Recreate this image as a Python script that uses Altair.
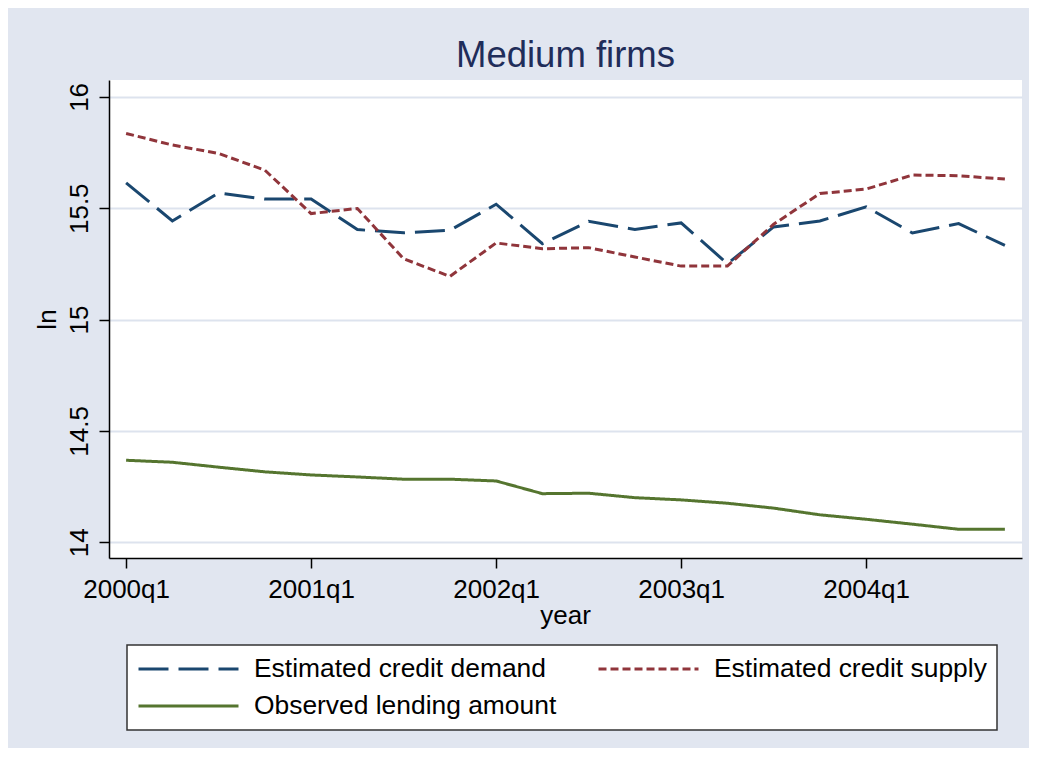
import altair as alt
import pandas as pd

quarters = ["2000q1", "2000q2", "2000q3", "2000q4",
            "2001q1", "2001q2", "2001q3", "2001q4",
            "2002q1", "2002q2", "2002q3", "2002q4",
            "2003q1", "2003q2", "2003q3", "2003q4",
            "2004q1", "2004q2", "2004q3", "2004q4"]
x_tick_labels = ["2000q1", "2001q1", "2002q1", "2003q1", "2004q1"]
y_ticks = [14, 14.5, 15, 15.5, 16]

series_names = ["Estimated credit demand", "Estimated credit supply", "Observed lending amount"]
series_colors = ["#1a476f", "#90353b", "#55752f"]
series_dashes = [[30, 10], [8, 4], [1, 0]]

demand = [15.614, 15.443, 15.569, 15.541, 15.541, 15.404, 15.390, 15.401, 15.518, 15.341,
          15.441, 15.405, 15.434, 15.251, 15.416, 15.443, 15.506, 15.389, 15.431, 15.333]
supply = [15.836, 15.784, 15.746, 15.671, 15.476, 15.499, 15.273, 15.194, 15.344, 15.318,
          15.323, 15.281, 15.240, 15.240, 15.428, 15.566, 15.586, 15.649, 15.646, 15.631]
observed = [14.368, 14.359, 14.337, 14.316, 14.302, 14.293, 14.283, 14.283, 14.275, 14.218,
            14.220, 14.200, 14.190, 14.175, 14.153, 14.123, 14.103, 14.081, 14.058, 14.058]

rows = []
for name, vals in zip(series_names, [demand, supply, observed]):
    for i, (q, v) in enumerate(zip(quarters, vals)):
        rows.append({"series": name, "quarter": q, "idx": i, "value": v})
df = pd.DataFrame(rows)

FONT = "Liberation Sans"

legend = alt.Legend(
    title=None, orient="none", legendX=18, legendY=565, columns=2, direction="horizontal",
    symbolType="stroke", symbolSize=10000, symbolStrokeWidth=3,
    labelFont=FONT, labelFontSize=26.4, labelColor="black", labelLimit=600,
    labelOffset=14, columnPadding=40, rowPadding=9, clipHeight=28,
    padding=10, fillColor="white", strokeColor="#333333",
)

chart = alt.Chart(df).mark_line(strokeWidth=3, strokeCap="butt").encode(
    x=alt.X("quarter:O", sort=quarters,
            scale=alt.Scale(type="point", padding=0.37),
            axis=alt.Axis(values=x_tick_labels, labelAngle=0, labelPadding=8,
                          grid=False, title="year", titleX=456, titleY=65,
                          titleAlign="center", titleBaseline="alphabetic")),
    y=alt.Y("value:Q", scale=alt.Scale(domain=[13.929, 16.076], nice=False, zero=False),
            axis=alt.Axis(values=y_ticks, format="~g", labelAngle=270, labelAlign="center",
                          labelBaseline="bottom", labelPadding=7, grid=True,
                          gridColor="#dde3ee", gridWidth=2,
                          title="ln", titleAngle=270, titleAlign="center",
                          titleBaseline="alphabetic", titleX=-54, titleY=239)),
    color=alt.Color("series:N", scale=alt.Scale(domain=series_names, range=series_colors),
                    legend=legend),
    strokeDash=alt.StrokeDash("series:N", scale=alt.Scale(domain=series_names, range=series_dashes),
                              legend=legend),
    order="idx:Q",
).properties(
    width=913, height=478,
    autosize=alt.AutoSizeParams(type="none"),
    padding={"left": 101, "top": 72, "right": 7, "bottom": 190},
    background="#e1e6f0",
    title=alt.Title("Medium firms", font=FONT, fontSize=36.5, fontWeight="normal",
                    color="#1f2d5a", anchor="middle", frame="group", offset=5, dy=28,
                    baseline="alphabetic"),
).configure_view(
    fill="white", strokeWidth=0
).configure_axis(
    labelFont=FONT, labelFontSize=26, labelColor="black",
    titleFont=FONT, titleFontSize=26, titleColor="black", titleFontWeight="normal",
    domainColor="black", domainWidth=1.5, tickColor="black", tickWidth=1.5, tickSize=10,
).configure_legend(
    strokeWidth=1.5
)

chart.save("out.html", embed_options={"renderer": "svg", "actions": False})
